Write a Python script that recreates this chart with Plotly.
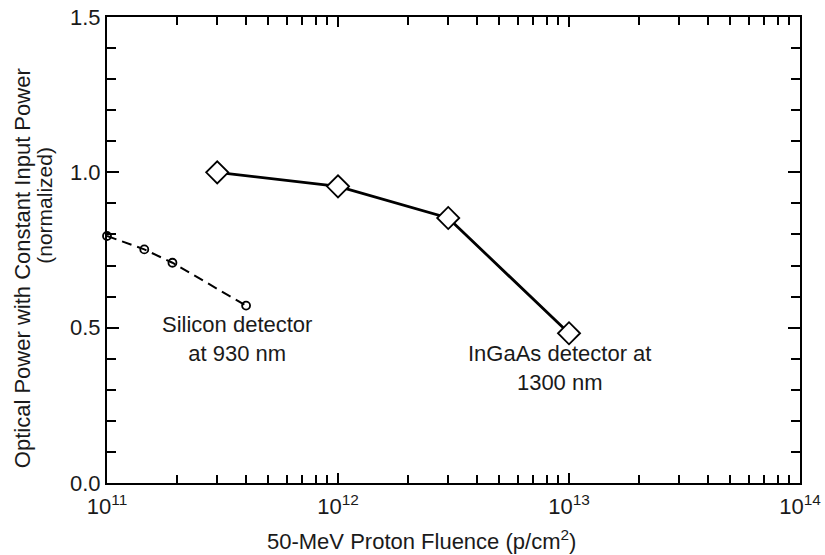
import plotly.graph_objects as go

ingaas_x = [3e11, 1e12, 3e12, 1e13]
ingaas_y = [1.0, 0.955, 0.853, 0.482]
si_x = [1e11, 1.45e11, 1.92e11, 4.0e11]
si_y = [0.795, 0.752, 0.709, 0.571]
y_ticks = [0.0, 0.5, 1.0, 1.5]
y_ticklabels = ["0.0", "0.5", "1.0", "1.5"]
x_ticks = [1e11, 1e12, 1e13, 1e14]
x_ticklabels = ["10<sup>11</sup>", "10<sup>12</sup>", "10<sup>13</sup>", "10<sup>14</sup>"]
x_minor = [m * d for d in [1e11, 1e12, 1e13] for m in range(2, 10)]

FONT = "Liberation Sans, Arial, sans-serif"
TXT = "#1a1a1a"

fig = go.Figure()
fig.add_trace(go.Scatter(
    x=si_x, y=si_y, mode="lines+markers",
    line=dict(color="black", width=2, dash="10px,6px"),
    marker=dict(symbol="circle-open", size=8, color="black", line=dict(width=1.8)),
    cliponaxis=False, showlegend=False))
fig.add_trace(go.Scatter(
    x=ingaas_x, y=ingaas_y, mode="lines+markers",
    line=dict(color="black", width=2.8),
    marker=dict(symbol="diamond", size=17, color="white", line=dict(color="black", width=1.8)),
    cliponaxis=False, showlegend=False))

fig.add_annotation(x=11.563, y=0.463, xref="x", yref="y", text="Silicon detector<br>at 930 nm",
                   showarrow=False, font=dict(family=FONT, size=22, color=TXT), align="center")
fig.add_annotation(x=12.96, y=0.37, xref="x", yref="y", text="InGaAs detector at<br>1300 nm",
                   showarrow=False, font=dict(family=FONT, size=22, color=TXT), align="center")

# axis titles as annotations (positioned like the reference)
fig.add_annotation(x=0.4545, y=-0.122, xref="paper", yref="paper",
                   text="50-MeV Proton Fluence (p/cm<sup>2</sup>)", showarrow=False,
                   xanchor="center", yanchor="middle", font=dict(family=FONT, size=22, color=TXT))
fig.add_annotation(x=-0.1227, y=0.461, xref="paper", yref="paper",
                   text="Optical Power with Constant Input Power", showarrow=False, textangle=-90,
                   xanchor="center", yanchor="middle", font=dict(family=FONT, size=22, color=TXT))
fig.add_annotation(x=-0.0895, y=0.597, xref="paper", yref="paper",
                   text="(normalized)", showarrow=False, textangle=-90,
                   xanchor="center", yanchor="middle", font=dict(family=FONT, size=21, color=TXT))

fig.update_xaxes(
    type="log", range=[11, 14], showline=True, linecolor="black", linewidth=2,
    mirror="ticks", ticks="inside", ticklen=10, tickwidth=1.5, tickcolor="black",
    tickvals=x_ticks, ticktext=x_ticklabels, ticklabelstandoff=3, automargin=False,
    tickfont=dict(family=FONT, size=22, color=TXT),
    minor=dict(ticks="inside", ticklen=8, tickwidth=1.5, tickcolor="black",
               tickmode="array", tickvals=x_minor, showgrid=False),
    showgrid=False, zeroline=False,
)
fig.update_yaxes(
    range=[0, 1.5], showline=True, linecolor="black", linewidth=2,
    mirror="ticks", ticks="inside", ticklen=12, tickwidth=1.5, tickcolor="black",
    tickvals=y_ticks, ticktext=y_ticklabels, automargin=False,
    tickfont=dict(family=FONT, size=22, color=TXT),
    minor=dict(ticks="inside", ticklen=9, tickwidth=1.5, tickcolor="black", dtick=0.1, showgrid=False),
    showgrid=False, zeroline=False,
)
fig.update_layout(
    width=825, height=555, margin=dict(l=107, r=25, t=17, b=72, autoexpand=False),
    plot_bgcolor="white", paper_bgcolor="white",
)
fig.write_html("out.html")
